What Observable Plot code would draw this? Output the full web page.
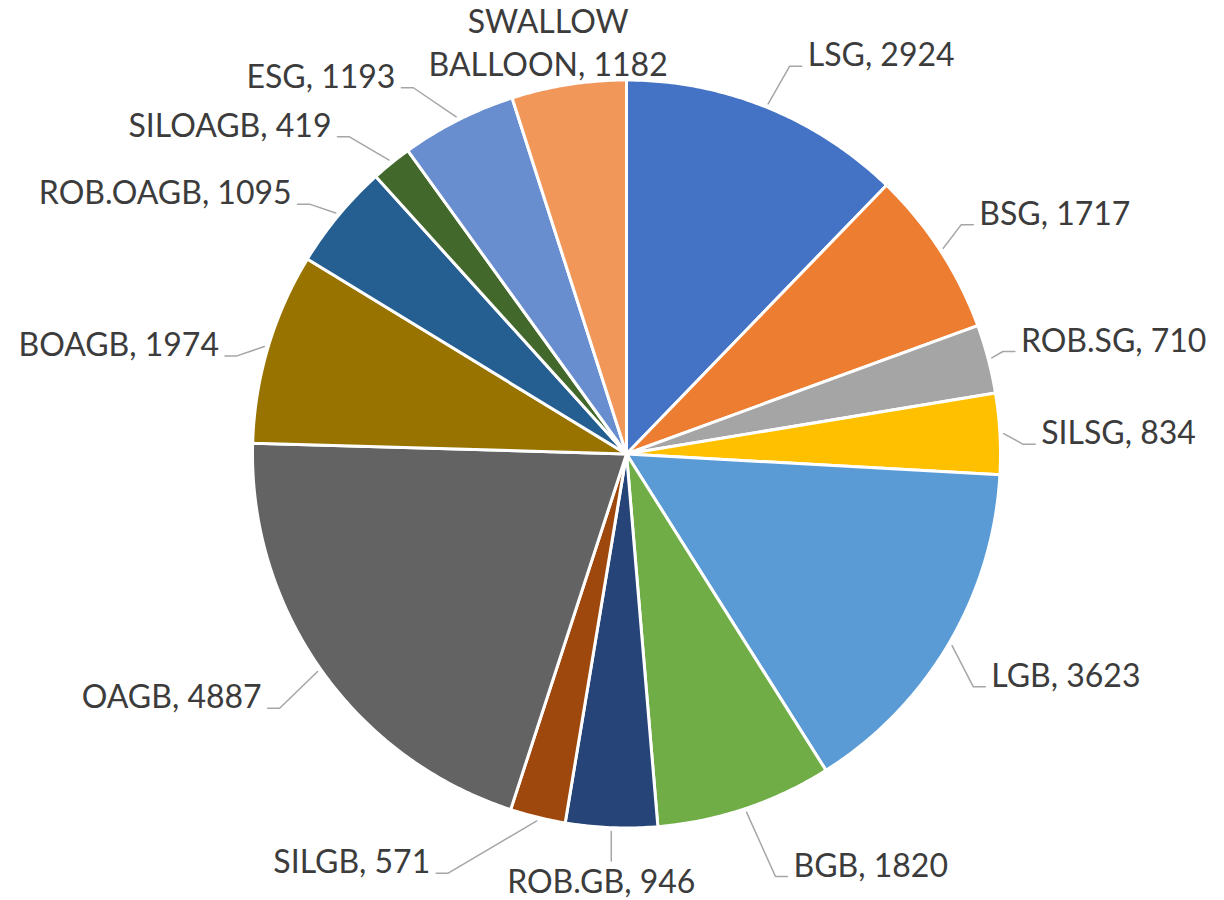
<!DOCTYPE html>
<html>
<head>
<meta charset="utf-8">
<script src="https://cdn.jsdelivr.net/npm/d3@7"></script>
<script src="https://cdn.jsdelivr.net/npm/@observablehq/plot@0.6"></script>
<style>
  html, body { margin: 0; padding: 0; background: #ffffff; }
  #chart svg { display: block; }
</style>
</head>
<body>
<div id="chart"></div>
<script>
// ---- data ----
const names = ["LSG", "BSG", "ROB.SG", "SILSG", "LGB", "BGB", "ROB.GB", "SILGB", "OAGB", "BOAGB", "ROB.OAGB", "SILOAGB", "ESG", "SWALLOW BALLOON"];
const values = [2924, 1717, 710, 834, 3623, 1820, 946, 571, 4887, 1974, 1095, 419, 1193, 1182];
const colors = ["#4472C4", "#ED7D31", "#A5A5A5", "#FFC000", "#5B9BD5", "#70AD47", "#264478", "#9E480E", "#636363", "#997300", "#255E91", "#43682B", "#698ED0", "#F1975A"];

// ---- label layout (best-fit placement, relative to each slice's mid angle) ----
// [angle nudge in degrees, elbow radius as a fraction of the pie radius, side]
const labelLayout = [
  [0.8, 1.125, "right"], [-1.4, 1.085, "right"], [-0.5, 1.043, "right"], [1.7, 1.061, "right"],
  [3.4, 1.117, "right"], [-0.9, 1.198, "right"], [-0.2, 1.089, "below"], [9.3, 1.218, "left"],
  [-1.1, 1.150, "left"], [-2.4, 1.074, "left"], [-1.4, 1.079, "left"], [-2.2, 1.126, "left"],
  [-3.4, 1.133, "left"], [-2.8, 1.033, "above"]
];

// ---- geometry ----
const W = 1224, H = 900, cx = 626, cy = 453.5, R = 374;
const rows = names.map((name, i) => ({name, value: values[i]}));
const arcs = d3.pie().sort(null).value(d => d.value)(rows);

const slicePts = [];
arcs.forEach(a => {
  const name = a.data.name;
  slicePts.push({name, x: 0, y: 0});
  const n = Math.max(2, Math.ceil((a.endAngle - a.startAngle) / (Math.PI / 360)));
  for (let j = 0; j <= n; j++) {
    const t = a.startAngle + (a.endAngle - a.startAngle) * j / n;
    slicePts.push({name, x: Math.sin(t), y: Math.cos(t)});
  }
  slicePts.push({name, x: 0, y: 0});
});

const tail = 12 / R;
const leaderPts = [];
const labels = [];
arcs.forEach((a, i) => {
  const name = a.data.name;
  const mid = (a.startAngle + a.endAngle) / 2;
  const [nudge, rad, side] = labelLayout[i];
  const ang = mid + nudge * Math.PI / 180;
  const s = {name, x: 1.01 * Math.sin(mid), y: 1.01 * Math.cos(mid)};
  const e = {name, x: rad * Math.sin(ang), y: rad * Math.cos(ang)};
  let tx = e.x;
  if (side === "right" || side === "left") {
    tx = e.x + (side === "right" ? tail : -tail);
    leaderPts.push(s, e, {name, x: tx, y: e.y});
  } else if (side === "below") {
    leaderPts.push(s, {name, x: s.x, y: e.y});
    tx = s.x;
  }
  labels.push({name, side, x: tx, y: e.y, text: `${name}, ${a.data.value}`});
});

const font = {fontFamily: "Lato, 'Open Sans', sans-serif", fontSize: 32, fill: "#3c3c3c"};

const chart = Plot.plot({
  width: W,
  height: H,
  margin: 0,
  x: {domain: [-cx / R, (W - cx) / R], axis: null},
  y: {domain: [(cy - H) / R, cy / R], axis: null},
  color: {domain: names, range: colors},
  style: {background: "#ffffff"},
  marks: [
    Plot.line(slicePts, {x: "x", y: "y", z: "name", fill: "name", stroke: "#ffffff", strokeWidth: 3, strokeLinejoin: "round"}),
    Plot.line(leaderPts, {x: "x", y: "y", z: "name", stroke: "#A6A6A6", strokeWidth: 1.5}),
    Plot.text(labels.filter(d => d.side === "right"), {x: "x", y: "y", text: "text", textAnchor: "start", lineAnchor: "bottom", dx: 6, ...font}),
    Plot.text(labels.filter(d => d.side === "left"), {x: "x", y: "y", text: "text", textAnchor: "end", lineAnchor: "bottom", dx: -6, ...font}),
    Plot.text(labels.filter(d => d.side === "below"), {x: "x", y: "y", text: "text", textAnchor: "middle", lineAnchor: "bottom", dx: -10, dy: 32, ...font}),
    Plot.text(labels.filter(d => d.side === "above"), {x: "x", y: "y", text: "text", textAnchor: "middle", lineAnchor: "bottom", lineWidth: 9, lineHeight: 1.35, ...font})
  ]
});
document.getElementById("chart").appendChild(chart);
</script>
</body>
</html>
